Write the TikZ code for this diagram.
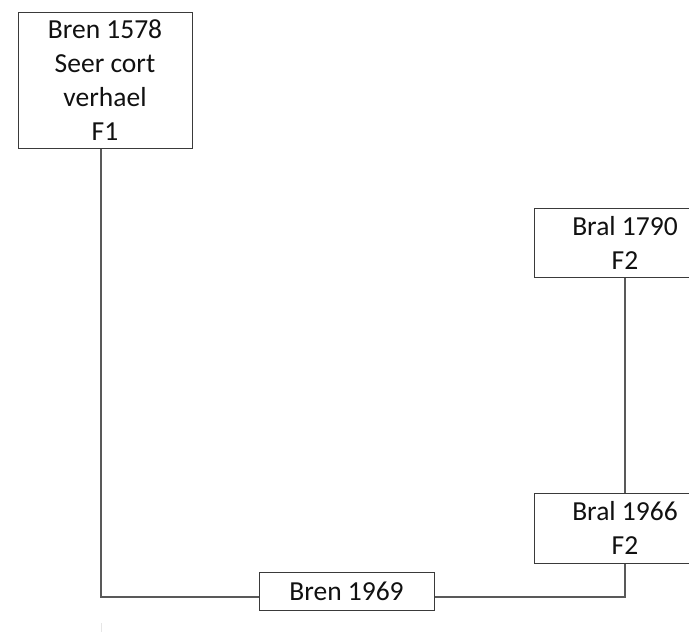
\documentclass[tikz,border=0pt]{standalone}
\usepackage{fontspec}
\setmainfont{Carlito}
\definecolor{boxline}{HTML}{3A3A3A}
\definecolor{linkgray}{HTML}{595959}
\definecolor{txtdark}{HTML}{111111}
\definecolor{faintgray}{HTML}{E6E6E6}

\tikzset{
  stembox/.style={draw=boxline, line width=1pt, fill=white, align=center,
    inner sep=0pt, text=txtdark, font=\fontsize{27.5}{34}\selectfont},
  link/.style={draw=linkgray, line width=1.3pt}
}

\begin{document}
\begin{tikzpicture}[x=1pt, y=-1pt]

% Page frame (px of the reference)
\clip (0,0) rectangle (689,632);

% Top left: oldest source
\node[stembox, minimum width=174pt, minimum height=136pt] (bren1578) at (105,80)
  {Bren 1578\\Seer cort\\verhael\\F1};

% Right column
\node[stembox, minimum width=182pt, minimum height=69pt] (bral1790) at (625,242.5)
  {Bral 1790\\F2};
\node[stembox, minimum width=182pt, minimum height=70pt] (bral1966) at (625,528)
  {Bral 1966\\F2};

% Bottom: newest
\node[stembox, minimum width=175pt, minimum height=38pt] (bren1969) at (346.5,591)
  {Bren 1969};

% Links
\draw[link] ([xshift=-4pt]bren1578.south) |- ([yshift=-6pt]bren1969.west);
\draw[link] ([yshift=-6pt]bren1969.east) -| (bral1966.south);
\draw[link] (bral1790.south) -- (bral1966.north);

% Faint mark below the left link
\draw[faintgray, line width=1pt] (101,623) -- (101,632);

\end{tikzpicture}
\end{document}
